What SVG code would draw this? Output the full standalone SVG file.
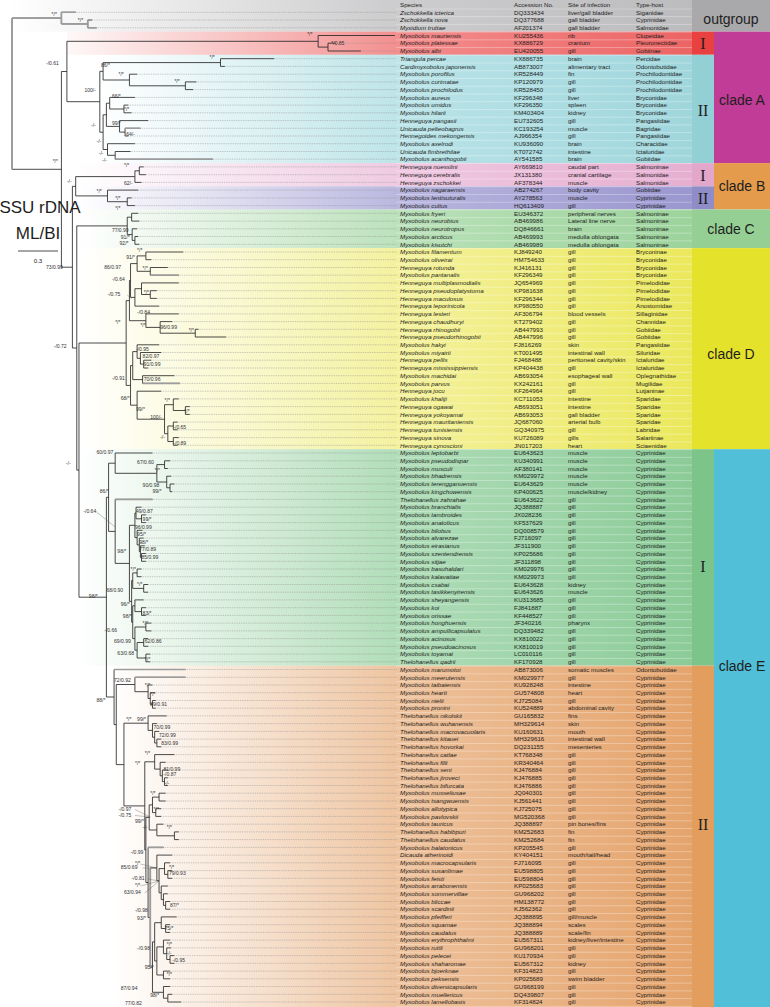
<svg xmlns="http://www.w3.org/2000/svg" width="770" height="1007" viewBox="0 0 770 1007">
<defs>
<style>
.br{fill:none;stroke:#262626;stroke-width:0.8}
.gb{fill:none;stroke:#9c9c9c;stroke-width:1.6}
.dt{fill:none;stroke:#8c8c8c;stroke-width:0.5;stroke-dasharray:0.8 0.8}
.ld{fill:none;stroke:#555;stroke-width:0.35}
.lb{font-family:"Liberation Sans",Arial,sans-serif;font-size:4.6px;fill:#333}
.r{font-family:"Liberation Sans",Arial,sans-serif;font-size:6.2px;fill:#1e1e1e}
.sp{font-style:italic}
.cl{font-family:"Liberation Sans",Arial,sans-serif;font-size:14px;fill:#1e1e1e;text-anchor:middle}
.rn{font-family:"Liberation Serif","Times New Roman",serif;font-size:16px;fill:#1e1e1e;text-anchor:middle}
.ti{font-family:"Liberation Sans",Arial,sans-serif;font-size:17px;fill:#1e1e1e;text-anchor:middle}
</style>
<linearGradient id="gGr" x1="0" y1="0" x2="1" y2="0"><stop offset="0" stop-color="#c1c1c3" stop-opacity="0"/><stop offset="0.55" stop-color="#c1c1c3" stop-opacity="0.8"/><stop offset="1" stop-color="#bcbcbe"/></linearGradient>
<linearGradient id="gRe" x1="0" y1="0" x2="1" y2="0"><stop offset="0" stop-color="#ef6e6e" stop-opacity="0.05"/><stop offset="0.55" stop-color="#ef6e6e" stop-opacity="0.8"/><stop offset="1" stop-color="#ec6464"/></linearGradient>
<linearGradient id="gTe" x1="0" y1="0" x2="1" y2="0"><stop offset="0" stop-color="#a6dbe0" stop-opacity="0"/><stop offset="0.55" stop-color="#a6dbe0" stop-opacity="0.8"/><stop offset="1" stop-color="#9fd6dc"/></linearGradient>
<linearGradient id="gPi" x1="0" y1="0" x2="1" y2="0"><stop offset="0" stop-color="#eab9d8" stop-opacity="0"/><stop offset="0.55" stop-color="#eab9d8" stop-opacity="0.8"/><stop offset="1" stop-color="#e6afd1"/></linearGradient>
<linearGradient id="gLa" x1="0" y1="0" x2="1" y2="0"><stop offset="0" stop-color="#a5a1d5" stop-opacity="0"/><stop offset="0.55" stop-color="#a5a1d5" stop-opacity="0.8"/><stop offset="1" stop-color="#9a96cf"/></linearGradient>
<linearGradient id="gGn" x1="0" y1="0" x2="1" y2="0"><stop offset="0" stop-color="#a6d8a5" stop-opacity="0"/><stop offset="0.55" stop-color="#a6d8a5" stop-opacity="0.8"/><stop offset="1" stop-color="#9cd39b"/></linearGradient>
<linearGradient id="gYe" x1="0" y1="0" x2="1" y2="0"><stop offset="0" stop-color="#f0ed80" stop-opacity="0"/><stop offset="0.55" stop-color="#f0ed80" stop-opacity="0.8"/><stop offset="1" stop-color="#ebe85c"/></linearGradient>
<linearGradient id="gEg" x1="0" y1="0" x2="1" y2="0"><stop offset="0" stop-color="#98d2a3" stop-opacity="0"/><stop offset="0.55" stop-color="#98d2a3" stop-opacity="0.8"/><stop offset="1" stop-color="#8ccb98"/></linearGradient>
<linearGradient id="gOr" x1="0" y1="0" x2="1" y2="0"><stop offset="0" stop-color="#e9b283" stop-opacity="0"/><stop offset="0.55" stop-color="#e9b283" stop-opacity="0.85"/><stop offset="1" stop-color="#e5a46c"/></linearGradient>
<pattern id="rl" patternUnits="userSpaceOnUse" x="396" y="8.43" width="296" height="7.732"><rect width="296" height="0.45" fill="#ffffff" opacity="0.65"/></pattern>
</defs>
<rect width="770" height="1007" fill="#ffffff"/>
<g id="bands">
<rect x="10" y="0" width="682" height="31.6" fill="url(#gGr)"/>
<rect x="67" y="31.6" width="625" height="23.2" fill="url(#gRe)"/>
<rect x="100" y="54.8" width="592" height="108.3" fill="url(#gTe)"/>
<rect x="76" y="163.1" width="616" height="23.2" fill="url(#gPi)"/>
<rect x="76" y="186.3" width="616" height="23.2" fill="url(#gLa)"/>
<rect x="77" y="209.5" width="615" height="38.6" fill="url(#gGn)"/>
<rect x="80" y="248.1" width="612" height="201.1" fill="url(#gYe)"/>
<rect x="78" y="449.2" width="614" height="216.5" fill="url(#gEg)"/>
<rect x="113" y="665.7" width="579" height="341.3" fill="url(#gOr)"/>
<rect x="396" y="8.43" width="296" height="998.6" fill="url(#rl)"/>
</g>
<g id="outgroup"><rect x="692" y="0" width="78" height="31.6" fill="#a9a9ab"/><text class="cl" x="731" y="24" font-size="13">outgroup</text></g>
<g id="cladeA"><rect x="714" y="31.6" width="56" height="131.5" fill="#c13c96"/><text class="cl" x="742" y="105">clade A</text></g>
<g id="cladeA-I"><rect x="692" y="31.6" width="22" height="23.2" fill="#e8413f"/><text class="rn" x="703" y="48.5">I</text></g>
<g id="cladeA-II"><rect x="692" y="54.8" width="22" height="108.3" fill="#93d0d6"/><text class="rn" x="703" y="116">II</text></g>
<g id="cladeB"><rect x="714" y="163.1" width="56" height="46.4" fill="#e49b4c"/><text class="cl" x="742" y="191">clade B</text></g>
<g id="cladeB-I"><rect x="692" y="163.1" width="22" height="23.2" fill="#e3a7cb"/><text class="rn" x="703" y="180.5">I</text></g>
<g id="cladeB-II"><rect x="692" y="186.3" width="22" height="23.2" fill="#8f8cc8"/><text class="rn" x="703" y="203.5">II</text></g>
<g id="cladeC"><rect x="692" y="209.5" width="78" height="38.6" fill="#95cf94"/><text class="cl" x="731" y="233.5">clade C</text></g>
<g id="cladeD"><rect x="692" y="248.1" width="78" height="201.1" fill="#e5e22c"/><text class="cl" x="731" y="359">clade D</text></g>
<g id="cladeE"><rect x="714" y="449.2" width="56" height="557.8" fill="#50bfd7"/><text class="cl" x="742" y="671">clade E</text></g>
<g id="cladeE-I"><rect x="692" y="449.2" width="22" height="216.5" fill="#7dc48a"/><text class="rn" x="703" y="571.5">I</text></g>
<g id="cladeE-II"><rect x="692" y="665.7" width="22" height="341.3" fill="#e39e5e"/><text class="rn" x="703" y="829.5">II</text></g>
<g id="title"><text class="ti" x="40" y="213">SSU rDNA</text><text class="ti" x="38" y="239">ML/BI</text><path d="M18,251H58" stroke="#222" stroke-width="0.8"/><text class="r" x="38" y="263" text-anchor="middle">0.3</text></g>
<g id="connectors" transform="matrix(1.097,0,0,1,-40.6,0)">
<path class="br" d="M48,18.1V169.3M48,18.1H93M48,169.3H93M93,12.3V23.9M93,12.3H106M93,23.9H117M117,20V27.8M117,20H121M117,27.8H125M93,71.5V267.2M93,71.5H98M93,267.2H103
M98,41.3V101.7M98,41.3H327M98,101.7H128M327,35.5V47.1M327,35.5H397M327,47.1H336M336,43.2V51M336,43.2H343M336,51H366M128,71.3V132.2M128,71.3H131M128,132.2H131M131,62.6V80M131,62.6H238M131,80H155M238,58.7V66.4M238,58.7H287M238,66.4H242M155,74.2V85.8M155,74.2H162M155,85.8H206M206,81.9V89.6M206,81.9H216M206,89.6H213M131,114.8V149.5M131,114.8H134M131,149.5H135M134,103.2V126.4M134,103.2H137M134,126.4H146M137,97.4V109M137,97.4H160M137,109H150M150,105.1V112.8M150,105.1H154M150,112.8H157M146,120.6V132.1M146,120.6H172M146,132.1H151M151,128.3V136M151,128.3H165M151,136H154M135,143.7V155.3M135,143.7H160M135,155.3H142M142,151.5V159.2M142,151.5H156M142,159.2H231
M103,186.3V348M103,186.3H106M103,348H107M106,176.6V195.9M106,176.6H160M106,195.9H135M160,170.8V182.4M160,170.8H164M160,182.4H166M164,166.9V174.7M164,166.9H168M164,174.7H170M135,190.1V201.7M135,190.1H163M135,201.7H153M153,197.9V205.6M153,197.9H157M153,205.6H160M107,225.9V470.1M107,225.9H153M107,470.1H109
M153,217.2V234.6M153,217.2H157M153,234.6H157.5M157,213.3V221.1M157,213.3H163M157,221.1H164M157.5,228.8V240.4M157.5,228.8H162M157.5,240.4H160M160,236.5V244.3M160,236.5H163M160,244.3H164
M109,343V597.2M109,343H152M109,597.2H134
M152,300.6V385.4M152,300.6H155M152,385.4H156M155,280.5V320.7M155,280.5H156M155,320.7H170M156,263.6V297.4M156,263.6H162M156,297.4H160M162,255.9V271.3M162,255.9H170M162,271.3H174M170,252V259.7M170,252H204M170,259.7H175M174,267.5V275.2M174,267.5H190M174,275.2H200M160,288.7V306.1M160,288.7H166M160,306.1H182M166,282.9V294.5M166,282.9H200M166,294.5H174M174,290.7V298.4M174,290.7H180M174,298.4H180M170,313.9V327.4M170,313.9H200M170,327.4H183M183,321.6V333.2M183,321.6H194M183,333.2H215M215,329.3V337M215,329.3H218M215,337H243M156,365.6V405.2M156,365.6H158M156,405.2H162M158,351.6V379.6M158,351.6H162M158,379.6H167M162,344.8V358.3M162,344.8H182M162,358.3H165M165,352.5V364.1M165,352.5H184M165,364.1H168M168,360.2V368M168,360.2H175M168,368H172M167,375.7V383.4M167,375.7H196M167,383.4H201M162,391.2V419.2M162,391.2H184M162,419.2H187M187,404.7V433.7M187,404.7H195M187,433.7H190M195,398.9V410.5M195,398.9H200M195,410.5H206M206,406.6V414.4M206,406.6H210M206,414.4H210M190,426V441.5M190,426H195M190,441.5H195M195,422.1V429.8M195,422.1H199M195,429.8H199M195,437.6V445.3M195,437.6H200M195,445.3H199
M134,497.3V697M134,497.3H136M134,697H141M136,463.2V531.4M136,463.2H142M136,531.4H142M142,453V473.3M142,453H176M142,473.3H180M142,499.4V563.4M142,499.4H176M142,563.4H155M180,464.6V482M180,464.6H187M180,482H189M187,460.8V468.5M187,460.8H192M187,468.5H190M189,476.2V487.8M189,476.2H193M189,487.8H192M192,484V491.7M192,484H196M192,491.7H194M155,525.3V601.4M155,525.3H160M155,601.4H157M160,513V537.6M160,513H161M160,537.6H162M161,507.2V518.8M161,507.2H166M161,518.8H166M166,514.9V522.6M166,514.9H170M166,522.6H170M162,530.3V544.9M162,530.3H167M162,544.9H164M164,538.1V551.6M164,538.1H168M164,551.6H165M165,545.8V557.4M165,545.8H169M165,557.4H166M166,553.5V561.3M166,553.5H170M166,561.3H170M157,580.6V622.2M157,580.6H158M157,622.2H158M158,572.9V588.4M158,572.9H162M158,588.4H168M162,569V576.7M162,569H166M162,576.7H166M168,584.5V592.2M168,584.5H172M168,592.2H172M158,605.8V638.6M158,605.8H160M158,638.6H160M160,599.9V611.6M160,599.9H168M160,611.6H166M166,607.7V615.4M166,607.7H170M166,615.4H170M160,627V650.2M160,627H170M160,650.2H162M170,623.1V630.9M170,623.1H175M170,630.9H175M162,642.5V658M162,642.5H168M162,658H170M168,638.6V646.3M168,638.6H172M168,646.3H172M170,654.1V661.8M170,654.1H174M170,661.8H174
M141,669.5V724.6M141,669.5H206M141,724.6H143M143,684.5V764.6M143,684.5H160M143,764.6H150M160,677.3V691.7M160,677.3H206M160,691.7H172M172,685V698.5M172,685H176M172,698.5H174M174,692.7V704.3M174,692.7H178M174,704.3H176M176,700.5V708.2M176,700.5H179M176,708.2H179M150,723.2V805.9M150,723.2H172M150,805.9H169M172,715.9V730.4M172,715.9H189M172,730.4H176M176,723.6V737.2M176,723.6H180M176,737.2H178M178,731.4V743M178,731.4H182M178,743H180M180,739.1V746.8M180,739.1H184M180,746.8H184M169,761.8V850M169,761.8H178M169,850H170M178,754.6V769.1M178,754.6H196M178,769.1H183M183,762.3V775.8M183,762.3H188M183,775.8H185M185,770V781.6M185,770H190M185,781.6H187M187,777.8V785.5M187,777.8H190M187,785.5H190M170,817.4V882.5M170,817.4H173M170,882.5H172M173,804.9V830M173,804.9H176M173,830H180M176,797.1V812.6M176,797.1H182M176,812.6H179M182,793.2V801M182,793.2H188M182,801H188M179,808.7V816.4M179,808.7H184M179,816.4H184M180,824.2V835.8M180,824.2H186M180,835.8H196M196,831.9V839.6M196,831.9H200M196,839.6H200M172,847.4V917.5M172,847.4H186M172,917.5H174M174,867.9V967.1M174,867.9H180M174,967.1H176M180,855.1V880.7M180,855.1H194M180,880.7H182M182,868.6V892.8M182,868.6H187M182,892.8H184M187,862.8V874.4M187,862.8H192M187,874.4H190M190,870.6V878.3M190,870.6H194M190,878.3H194M184,886V899.6M184,886H190M184,899.6H186M186,893.8V905.4M186,893.8H190M186,905.4H188M188,901.5V909.2M188,901.5H192M188,909.2H192M176,941.9V992.3M176,941.9H178M176,992.3H186M178,922.7V961M178,922.7H184M178,961H180M184,916.9V928.5M184,916.9H198M184,928.5H188M188,924.7V932.4M188,924.7H192M188,932.4H192M180,946.9V975M180,946.9H186M180,975H186M186,940.1V953.7M186,940.1H192M186,953.7H189M189,947.9V959.5M189,947.9H193M189,959.5H192M192,955.6V963.3M192,955.6H196M192,963.3H196M186,971.1V978.8M186,971.1H192M186,978.8H192M186,986.5V998.2M186,986.5H192M186,998.2H190M190,994.3V1002M190,994.3H194M190,1002H202"/>
<path class="gb" d="M48,18.1V169.3M48,18.1H93M93,12.3V23.9M93,12.3H106M93,23.9H117M117,20V27.8M117,20H121M117,27.8H125M142,159.2H231M151,128.3H165M174,275.2H200M167,383.4H201M142,499.4H176M141,669.5H206M172,847.4H186M160,677.3H206M174,867.9V967.1"/>
<path class="dt" d="M106,12.3H399M121,20H399M125,27.8H399M343,43.2H399M366,51H399M287,58.7H399M242,66.4H399M162,74.2H399M216,81.9H399M213,89.6H399M160,97.4H399M154,105.1H399M157,112.8H399M172,120.6H399M165,128.3H399M154,136H399M160,143.7H399M156,151.5H399M231,159.2H399M168,166.9H399M170,174.7H399M166,182.4H399M163,190.1H399M157,197.9H399M160,205.6H399M163,213.3H399M164,221.1H399M162,228.8H399M163,236.5H399M164,244.3H399M204,252H399M175,259.7H399M190,267.5H399M200,275.2H399M200,282.9H399M180,290.7H399M180,298.4H399M182,306.1H399M200,313.9H399M194,321.6H399M218,329.3H399M243,337H399M182,344.8H399M184,352.5H399M175,360.2H399M172,368H399M196,375.7H399M201,383.4H399M184,391.2H399M200,398.9H399M210,406.6H399M210,414.4H399M199,422.1H399M199,429.8H399M200,437.6H399M199,445.3H399M176,453H399M192,460.8H399M190,468.5H399M193,476.2H399M196,484H399M194,491.7H399M176,499.4H399M166,507.2H399M170,514.9H399M170,522.6H399M167,530.3H399M168,538.1H399M169,545.8H399M170,553.5H399M170,561.3H399M166,569H399M166,576.7H399M172,584.5H399M172,592.2H399M168,599.9H399M170,607.7H399M170,615.4H399M175,623.1H399M175,630.9H399M172,638.6H399M172,646.3H399M174,654.1H399M174,661.8H399M206,669.5H399M206,677.3H399M176,685H399M178,692.7H399M179,700.5H399M179,708.2H399M189,715.9H399M180,723.6H399M182,731.4H399M184,739.1H399M184,746.8H399M196,754.6H399M188,762.3H399M190,770H399M190,777.8H399M190,785.5H399M188,793.2H399M188,801H399M184,808.7H399M184,816.4H399M186,824.2H399M200,831.9H399M200,839.6H399M186,847.4H399M194,855.1H399M192,862.8H399M194,870.6H399M194,878.3H399M190,886H399M190,893.8H399M192,901.5H399M192,909.2H399M198,916.9H399M192,924.7H399M192,932.4H399M192,940.1H399M193,947.9H399M196,955.6H399M196,963.3H399M192,971.1H399M192,978.8H399M192,986.5H399M194,994.3H399M202,1002H399"/>
<path class="ld" d="M153,295L157,298.7M125,512L142,527M160,809.5L174,817M160,815.5L174,817M165,864L180,868M167,868L180,868M172,879L182,881M165,886L182,881M169,893L182,881"/>
</g>
<g id="support" class="lb" transform="matrix(1.097,0,0,1,-40.6,0)">
<text x="84" y="15.6">*/*</text><text x="108" y="21.6">*/*</text><text x="79" y="64.6">-/0.61</text><text x="85" y="162.6">*/*</text><text x="79" y="269.3">73/0.99</text><text x="98" y="182.6">-/-</text><text x="86" y="347.6">-/0.72</text><text x="97" y="464.6">-/-</text><text x="118" y="597.6">98/*</text>
<text x="317" y="36.3">*/*</text><text x="339" y="44.6">*/0.85</text><text x="228" y="59.3">*/*</text><text x="129" y="67.3">86/*</text><text x="145" y="75.6">*/*</text><text x="196" y="82.6">*/*</text><text x="114" y="92.3">100/-</text><text x="139" y="98.3">66/*</text><text x="150" y="110.6">*/*</text><text x="139" y="124.9">99/*</text><text x="120" y="127.3">-/-</text><text x="152" y="135.6">64/-</text><text x="125" y="142.9">-/-</text><text x="127" y="154.6">-/-</text><text x="130" y="161.6">-/-</text>
<text x="150" y="167.3">*/*</text><text x="150" y="184.6">62/-</text><text x="125" y="192.6">*/*</text><text x="142" y="200.3">*/*</text>
<text x="142" y="209.6">*/*</text><text x="139" y="231.6">77/0.99</text><text x="147" y="238.6">91/*</text><text x="146" y="244.6">92/*</text>
<text x="162" y="252.3">*/*</text><text x="152" y="258.6">91/*</text><text x="132" y="269.3">86/0.97</text><text x="167" y="269.6">*/*</text><text x="139" y="280.6">-/0.64</text><text x="135" y="295.6">-/0.75</text><text x="168" y="293.6">*/*</text><text x="162" y="313.6">-/0.84</text><text x="142" y="323.6">*/*</text><text x="165" y="326.6">*/*</text><text x="183" y="328.6">96/0.99</text><text x="209" y="331.6">*/*</text><text x="161" y="350.6">-/0.95</text><text x="167" y="357.6">82/0.97</text><text x="168" y="365.6">91/0.99</text><text x="139" y="379.6">-/0.91</text><text x="168" y="380.6">70/0.96</text><text x="147" y="399.6">68/*</text><text x="187" y="401.6">*/*</text><text x="161" y="410.6">99/*</text><text x="205" y="412.6">*/*</text><text x="174" y="418.6">100/-</text><text x="195" y="428.6">-/0.65</text><text x="183" y="438.6">-/-</text><text x="195" y="444.6">-/0.89</text>
<text x="125" y="453.6">60/0.97</text><text x="162" y="463.6">67/0.60</text><text x="178" y="471.6">*/*</text><text x="167" y="486.6">90/0.98</text><text x="176" y="492.6">99/*</text><text x="128" y="492.6">86/*</text><text x="113" y="512.6">-/0.64</text><text x="161" y="512.6">49/0.87</text><text x="167" y="520.6">99/*</text><text x="160" y="528.6">96/0.99</text><text x="162" y="535.6">95/*</text><text x="164" y="543.6">98/*</text><text x="164" y="550.6">77/0.89</text><text x="166" y="558.6">85/0.99</text><text x="144" y="552.6">98/*</text><text x="156" y="570.6">*/*</text><text x="162" y="585.6">*/*</text><text x="134" y="591.6">68/0.90</text><text x="147" y="605.6">96/*</text><text x="167" y="614.6">83/*</text><text x="149" y="617.6">98/*</text><text x="167" y="624.6">*/*</text><text x="132" y="631.6">-/0.66</text><text x="141" y="642.6">69/0.99</text><text x="169" y="642.6">62/0.86</text><text x="144" y="654.6">63/0.68</text><text x="169" y="660.6">*/*</text>
<text x="141" y="681.6">72/0.92</text><text x="169" y="686.6">*/*</text><text x="174" y="695.6">*/*</text><text x="174" y="705.6">89/0.91</text><text x="125" y="701.6">88/*</text><text x="152" y="720.6">*/*</text><text x="162" y="720.6">99/*</text><text x="177" y="728.6">70/0.99</text><text x="182" y="736.6">72/0.99</text><text x="184" y="744.6">83/0.99</text><text x="169" y="755.3">*/*</text><text x="160" y="764.6">*/*</text><text x="186" y="770.6">81/0.99</text><text x="186" y="775.6">-/0.87</text><text x="187" y="784.6">-/-</text><text x="174" y="794.6">*/*</text><text x="145" y="810.6">-/0.97</text><text x="177" y="810.6">*/*</text><text x="145" y="816.6">-/0.75</text><text x="160" y="822.6">99/*</text><text x="167" y="828.6">-/-</text><text x="189" y="828.6">*/*</text><text x="156" y="853.6">-/0.99</text><text x="160" y="864.6">*/*</text><text x="147" y="868.6">85/0.69</text><text x="191" y="868.6">*/*</text><text x="191" y="874.6">79/0.93</text><text x="157" y="879.6">-/0.81</text><text x="160" y="886.6">*/*</text><text x="150" y="893.6">63/0.94</text><text x="192" y="906.6">87/*</text><text x="160" y="911.6">-/0.98</text><text x="162" y="919.6">93/*</text><text x="187" y="929.6">75/*</text><text x="189" y="945.6">*/*</text><text x="162" y="949.6">-/0.98</text><text x="189" y="954.6">-/-</text><text x="194" y="961.6">-/0.95</text><text x="169" y="968.6">95/*</text><text x="189" y="975.6">*/*</text><text x="147" y="989.6">87/0.94</text><text x="174" y="996.6">98/*</text><text x="151" y="1004.6">77/0.82</text>
</g>
<g id="header"><text class="r" y="6.8"><tspan x="400">Species</tspan><tspan x="514">Accession No.</tspan><tspan x="568">Site of infection</tspan><tspan x="636">Type-host</tspan></text></g>
<g id="taxa" class="r">
<g id="t1"><text y="14.5"><tspan x="400" class="sp">Zschokkella icterica</tspan><tspan x="514">DQ333434</tspan><tspan x="568">liver/gall bladder</tspan><tspan x="636">Siganidae</tspan></text></g>
<g id="t2"><text y="22.2"><tspan x="400" class="sp">Zschokkella nova</tspan><tspan x="514">DQ377688</tspan><tspan x="568">gall bladder</tspan><tspan x="636">Cyprinidae</tspan></text></g>
<g id="t3"><text y="30"><tspan x="400" class="sp">Myxidium truttae</tspan><tspan x="514">AF201374</tspan><tspan x="568">gall bladder</tspan><tspan x="636">Salmonidae</tspan></text></g>
<g id="t4"><text y="37.7"><tspan x="400" class="sp">Myxobolus mauriensis</tspan><tspan x="514">KU255436</tspan><tspan x="568">rib</tspan><tspan x="636">Clupeidae</tspan></text></g>
<g id="t5"><text y="45.4"><tspan x="400" class="sp">Myxobolus platessae</tspan><tspan x="514">KX886729</tspan><tspan x="568">cranium</tspan><tspan x="636">Pleuronectidae</tspan></text></g>
<g id="t6"><text y="53.2"><tspan x="400" class="sp">Myxobolus albi</tspan><tspan x="514">EU420055</tspan><tspan x="568">gill</tspan><tspan x="636">Gobiinae</tspan></text></g>
<g id="t7"><text y="60.9"><tspan x="400" class="sp">Triangula percae</tspan><tspan x="514">KX886735</tspan><tspan x="568">brain</tspan><tspan x="636">Percidae</tspan></text></g>
<g id="t8"><text y="68.6"><tspan x="400" class="sp">Cardimyxobolus japonensis</tspan><tspan x="514">AB873007</tspan><tspan x="568">alimentary tract</tspan><tspan x="636">Odontobutidae</tspan></text></g>
<g id="t9"><text y="76.4"><tspan x="400" class="sp">Myxobolus porofilus</tspan><tspan x="514">KR528449</tspan><tspan x="568">fin</tspan><tspan x="636">Prochilodontidae</tspan></text></g>
<g id="t10"><text y="84.1"><tspan x="400" class="sp">Myxobolus curimatae</tspan><tspan x="514">KP120979</tspan><tspan x="568">gill</tspan><tspan x="636">Prochilodontidae</tspan></text></g>
<g id="t11"><text y="91.8"><tspan x="400" class="sp">Myxobolus prochilodus</tspan><tspan x="514">KR528450</tspan><tspan x="568">gill</tspan><tspan x="636">Prochilodontidae</tspan></text></g>
<g id="t12"><text y="99.6"><tspan x="400" class="sp">Myxobolus aureus</tspan><tspan x="514">KF296348</tspan><tspan x="568">liver</tspan><tspan x="636">Bryconidae</tspan></text></g>
<g id="t13"><text y="107.3"><tspan x="400" class="sp">Myxobolus umidus</tspan><tspan x="514">KF296350</tspan><tspan x="568">spleen</tspan><tspan x="636">Bryconidae</tspan></text></g>
<g id="t14"><text y="115"><tspan x="400" class="sp">Myxobolus hilarii</tspan><tspan x="514">KM403404</tspan><tspan x="568">kidney</tspan><tspan x="636">Bryconidae</tspan></text></g>
<g id="t15"><text y="122.8"><tspan x="400" class="sp">Henneguya pangasii</tspan><tspan x="514">EU732605</tspan><tspan x="568">gill</tspan><tspan x="636">Pangasiidae</tspan></text></g>
<g id="t16"><text y="130.5"><tspan x="400" class="sp">Unicauda pelteobagrus</tspan><tspan x="514">KC193254</tspan><tspan x="568">muscle</tspan><tspan x="636">Bagridae</tspan></text></g>
<g id="t17"><text y="138.2"><tspan x="400" class="sp">Hennegoides mekongensis</tspan><tspan x="514">AJ966354</tspan><tspan x="568">gill</tspan><tspan x="636">Pangasiidae</tspan></text></g>
<g id="t18"><text y="145.9"><tspan x="400" class="sp">Myxobolus axelrodi</tspan><tspan x="514">KU936090</tspan><tspan x="568">brain</tspan><tspan x="636">Characidae</tspan></text></g>
<g id="t19"><text y="153.7"><tspan x="400" class="sp">Unicauda fimbrethilae</tspan><tspan x="514">KT072742</tspan><tspan x="568">intestine</tspan><tspan x="636">Ictaluridae</tspan></text></g>
<g id="t20"><text y="161.4"><tspan x="400" class="sp">Myxobolus acanthogobii</tspan><tspan x="514">AY541585</tspan><tspan x="568">brain</tspan><tspan x="636">Gobiidae</tspan></text></g>
<g id="t21"><text y="169.1"><tspan x="400" class="sp">Henneguya nuesslini</tspan><tspan x="514">AY669810</tspan><tspan x="568">caudal part</tspan><tspan x="636">Salmoninae</tspan></text></g>
<g id="t22"><text y="176.9"><tspan x="400" class="sp">Henneguya cerebralis</tspan><tspan x="514">JX131380</tspan><tspan x="568">cranial cartilage</tspan><tspan x="636">Salmonidae</tspan></text></g>
<g id="t23"><text y="184.6"><tspan x="400" class="sp">Henneguya zschokkei</tspan><tspan x="514">AF378344</tspan><tspan x="568">muscle</tspan><tspan x="636">Salmonidae</tspan></text></g>
<g id="t24"><text y="192.3"><tspan x="400" class="sp">Myxobolus nagaraensis</tspan><tspan x="514">AB274267</tspan><tspan x="568">body cavity</tspan><tspan x="636">Gobiidae</tspan></text></g>
<g id="t25"><text y="200.1"><tspan x="400" class="sp">Myxobolus lentisuturalis</tspan><tspan x="514">AY278563</tspan><tspan x="568">muscle</tspan><tspan x="636">Cyprinidae</tspan></text></g>
<g id="t26"><text y="207.8"><tspan x="400" class="sp">Myxobolus cultus</tspan><tspan x="514">HQ613409</tspan><tspan x="568">gill</tspan><tspan x="636">Cyprinidae</tspan></text></g>
<g id="t27"><text y="215.5"><tspan x="400" class="sp">Myxobolus fryeri</tspan><tspan x="514">EU346372</tspan><tspan x="568">peripheral nerves</tspan><tspan x="636">Salmoninae</tspan></text></g>
<g id="t28"><text y="223.3"><tspan x="400" class="sp">Myxobolus neurobius</tspan><tspan x="514">AB469986</tspan><tspan x="568">Lateral line nerve</tspan><tspan x="636">Salmoninae</tspan></text></g>
<g id="t29"><text y="231"><tspan x="400" class="sp">Myxobolus neurotropus</tspan><tspan x="514">DQ846661</tspan><tspan x="568">brain</tspan><tspan x="636">Salmoninae</tspan></text></g>
<g id="t30"><text y="238.7"><tspan x="400" class="sp">Myxobolus arcticus</tspan><tspan x="514">AB469993</tspan><tspan x="568">medulla oblongata</tspan><tspan x="636">Salmoninae</tspan></text></g>
<g id="t31"><text y="246.5"><tspan x="400" class="sp">Myxobolus kisutchi</tspan><tspan x="514">AB469989</tspan><tspan x="568">medulla oblongata</tspan><tspan x="636">Salmoninae</tspan></text></g>
<g id="t32"><text y="254.2"><tspan x="400" class="sp">Myxobolus filamentum</tspan><tspan x="514">KJ849240</tspan><tspan x="568">gill</tspan><tspan x="636">Bryconinae</tspan></text></g>
<g id="t33"><text y="261.9"><tspan x="400" class="sp">Myxobolus oliveirai</tspan><tspan x="514">HM754633</tspan><tspan x="568">gill</tspan><tspan x="636">Bryconidae</tspan></text></g>
<g id="t34"><text y="269.7"><tspan x="400" class="sp">Henneguya rotunda</tspan><tspan x="514">KJ416131</tspan><tspan x="568">gill</tspan><tspan x="636">Bryconidae</tspan></text></g>
<g id="t35"><text y="277.4"><tspan x="400" class="sp">Myxobolus pantanalis</tspan><tspan x="514">KF296349</tspan><tspan x="568">gill</tspan><tspan x="636">Bryconidae</tspan></text></g>
<g id="t36"><text y="285.1"><tspan x="400" class="sp">Henneguya multiplasmodialis</tspan><tspan x="514">JQ654969</tspan><tspan x="568">gill</tspan><tspan x="636">Pimelodidae</tspan></text></g>
<g id="t37"><text y="292.9"><tspan x="400" class="sp">Henneguya pseudoplatystoma</tspan><tspan x="514">KP981638</tspan><tspan x="568">gill</tspan><tspan x="636">Pimelodidae</tspan></text></g>
<g id="t38"><text y="300.6"><tspan x="400" class="sp">Henneguya maculosus</tspan><tspan x="514">KF296344</tspan><tspan x="568">gill</tspan><tspan x="636">Pimelodidae</tspan></text></g>
<g id="t39"><text y="308.3"><tspan x="400" class="sp">Henneguya leporinicola</tspan><tspan x="514">KP980550</tspan><tspan x="568">gill</tspan><tspan x="636">Anostomidae</tspan></text></g>
<g id="t40"><text y="316.1"><tspan x="400" class="sp">Henneguya lesteri</tspan><tspan x="514">AF306794</tspan><tspan x="568">blood vessels</tspan><tspan x="636">Sillaginidae</tspan></text></g>
<g id="t41"><text y="323.8"><tspan x="400" class="sp">Henneguya chaudhuryi</tspan><tspan x="514">KT279402</tspan><tspan x="568">gill</tspan><tspan x="636">Channidae</tspan></text></g>
<g id="t42"><text y="331.5"><tspan x="400" class="sp">Henneguya rhinogobii</tspan><tspan x="514">AB447993</tspan><tspan x="568">gill</tspan><tspan x="636">Gobiidae</tspan></text></g>
<g id="t43"><text y="339.2"><tspan x="400" class="sp">Henneguya pseudorhinogobii</tspan><tspan x="514">AB447996</tspan><tspan x="568">gill</tspan><tspan x="636">Gobiidae</tspan></text></g>
<g id="t44"><text y="347"><tspan x="400" class="sp">Myxobolus hakyi</tspan><tspan x="514">FJ816269</tspan><tspan x="568">skin</tspan><tspan x="636">Pangasiidae</tspan></text></g>
<g id="t45"><text y="354.7"><tspan x="400" class="sp">Myxobolus miyairii</tspan><tspan x="514">KT001495</tspan><tspan x="568">intestinal wall</tspan><tspan x="636">Siluridae</tspan></text></g>
<g id="t46"><text y="362.4"><tspan x="400" class="sp">Henneguya pellis</tspan><tspan x="514">FJ468488</tspan><tspan x="568">peritoneal cavity/skin</tspan><tspan x="636">Ictaluridae</tspan></text></g>
<g id="t47"><text y="370.2"><tspan x="400" class="sp">Henneguya mississippiensis</tspan><tspan x="514">KP404438</tspan><tspan x="568">gill</tspan><tspan x="636">Ictaluridae</tspan></text></g>
<g id="t48"><text y="377.9"><tspan x="400" class="sp">Myxobolus machidai</tspan><tspan x="514">AB693054</tspan><tspan x="568">esophageal wall</tspan><tspan x="636">Oplegnathidae</tspan></text></g>
<g id="t49"><text y="385.6"><tspan x="400" class="sp">Myxobolus parvus</tspan><tspan x="514">KX242161</tspan><tspan x="568">gill</tspan><tspan x="636">Mugilidae</tspan></text></g>
<g id="t50"><text y="393.4"><tspan x="400" class="sp">Henneguya jocu</tspan><tspan x="514">KF264964</tspan><tspan x="568">gill</tspan><tspan x="636">Lutjaninae</tspan></text></g>
<g id="t51"><text y="401.1"><tspan x="400" class="sp">Myxobolus khaliji</tspan><tspan x="514">KC711053</tspan><tspan x="568">intestine</tspan><tspan x="636">Sparidae</tspan></text></g>
<g id="t52"><text y="408.8"><tspan x="400" class="sp">Henneguya ogawai</tspan><tspan x="514">AB693051</tspan><tspan x="568">intestine</tspan><tspan x="636">Sparidae</tspan></text></g>
<g id="t53"><text y="416.6"><tspan x="400" class="sp">Henneguya yokoyamai</tspan><tspan x="514">AB693053</tspan><tspan x="568">gall bladder</tspan><tspan x="636">Sparidae</tspan></text></g>
<g id="t54"><text y="424.3"><tspan x="400" class="sp">Henneguya mauritaniensis</tspan><tspan x="514">JQ687060</tspan><tspan x="568">arterial bulb</tspan><tspan x="636">Sparidae</tspan></text></g>
<g id="t55"><text y="432"><tspan x="400" class="sp">Henneguya tunisiensis</tspan><tspan x="514">GQ340975</tspan><tspan x="568">gill</tspan><tspan x="636">Labridae</tspan></text></g>
<g id="t56"><text y="439.8"><tspan x="400" class="sp">Henneguya sinova</tspan><tspan x="514">KU726089</tspan><tspan x="568">gills</tspan><tspan x="636">Salariinae</tspan></text></g>
<g id="t57"><text y="447.5"><tspan x="400" class="sp">Henneguya cynoscioni</tspan><tspan x="514">JN017203</tspan><tspan x="568">heart</tspan><tspan x="636">Sciaenidae</tspan></text></g>
<g id="t58"><text y="455.2"><tspan x="400" class="sp">Myxobolus leptobarbi</tspan><tspan x="514">EU643623</tspan><tspan x="568">muscle</tspan><tspan x="636">Cyprinidae</tspan></text></g>
<g id="t59"><text y="463"><tspan x="400" class="sp">Myxobolus pseudodispar</tspan><tspan x="514">KU340991</tspan><tspan x="568">muscle</tspan><tspan x="636">Cyprinidae</tspan></text></g>
<g id="t60"><text y="470.7"><tspan x="400" class="sp">Myxobolus musculi</tspan><tspan x="514">AF380141</tspan><tspan x="568">muscle</tspan><tspan x="636">Cyprinidae</tspan></text></g>
<g id="t61"><text y="478.4"><tspan x="400" class="sp">Myxobolus bhadrensis</tspan><tspan x="514">KM029972</tspan><tspan x="568">muscle</tspan><tspan x="636">Cyprinidae</tspan></text></g>
<g id="t62"><text y="486.2"><tspan x="400" class="sp">Myxobolus terengganuensis</tspan><tspan x="514">EU643629</tspan><tspan x="568">muscle</tspan><tspan x="636">Cyprinidae</tspan></text></g>
<g id="t63"><text y="493.9"><tspan x="400" class="sp">Myxobolus kingchowensis</tspan><tspan x="514">KP400625</tspan><tspan x="568">muscle/kidney</tspan><tspan x="636">Cyprinidae</tspan></text></g>
<g id="t64"><text y="501.6"><tspan x="400" class="sp">Thelohanellus zahrahae</tspan><tspan x="514">EU643622</tspan><tspan x="568">gill</tspan><tspan x="636">Cyprinidae</tspan></text></g>
<g id="t65"><text y="509.4"><tspan x="400" class="sp">Myxobolus branchialis</tspan><tspan x="514">JQ388887</tspan><tspan x="568">gill</tspan><tspan x="636">Cyprinidae</tspan></text></g>
<g id="t66"><text y="517.1"><tspan x="400" class="sp">Myxobolus tambroides</tspan><tspan x="514">JX028236</tspan><tspan x="568">gill</tspan><tspan x="636">Cyprinidae</tspan></text></g>
<g id="t67"><text y="524.8"><tspan x="400" class="sp">Myxobolus anatolicus</tspan><tspan x="514">KF537629</tspan><tspan x="568">gill</tspan><tspan x="636">Cyprinidae</tspan></text></g>
<g id="t68"><text y="532.5"><tspan x="400" class="sp">Myxobolus bilobus</tspan><tspan x="514">DQ008579</tspan><tspan x="568">gill</tspan><tspan x="636">Cyprinidae</tspan></text></g>
<g id="t69"><text y="540.3"><tspan x="400" class="sp">Myxobolus alvarezae</tspan><tspan x="514">FJ716097</tspan><tspan x="568">gill</tspan><tspan x="636">Cyprinidae</tspan></text></g>
<g id="t70"><text y="548"><tspan x="400" class="sp">Myxobolus eirasianus</tspan><tspan x="514">JF311900</tspan><tspan x="568">gill</tspan><tspan x="636">Cyprinidae</tspan></text></g>
<g id="t71"><text y="555.7"><tspan x="400" class="sp">Myxobolus szentendrensis</tspan><tspan x="514">KP025686</tspan><tspan x="568">gill</tspan><tspan x="636">Cyprinidae</tspan></text></g>
<g id="t72"><text y="563.5"><tspan x="400" class="sp">Myxobolus sitjae</tspan><tspan x="514">JF311898</tspan><tspan x="568">gill</tspan><tspan x="636">Cyprinidae</tspan></text></g>
<g id="t73"><text y="571.2"><tspan x="400" class="sp">Myxobolus basuhaldari</tspan><tspan x="514">KM029976</tspan><tspan x="568">gill</tspan><tspan x="636">Cyprinidae</tspan></text></g>
<g id="t74"><text y="578.9"><tspan x="400" class="sp">Myxobolus kalavatiae</tspan><tspan x="514">KM029973</tspan><tspan x="568">gill</tspan><tspan x="636">Cyprinidae</tspan></text></g>
<g id="t75"><text y="586.7"><tspan x="400" class="sp">Myxobolus csabai</tspan><tspan x="514">EU643628</tspan><tspan x="568">kidney</tspan><tspan x="636">Cyprinidae</tspan></text></g>
<g id="t76"><text y="594.4"><tspan x="400" class="sp">Myxobolus tasikkenyirensis</tspan><tspan x="514">EU643626</tspan><tspan x="568">muscle</tspan><tspan x="636">Cyprinidae</tspan></text></g>
<g id="t77"><text y="602.1"><tspan x="400" class="sp">Myxobolus sheyangensis</tspan><tspan x="514">KU313685</tspan><tspan x="568">gill</tspan><tspan x="636">Cyprinidae</tspan></text></g>
<g id="t78"><text y="609.9"><tspan x="400" class="sp">Myxobolus koi</tspan><tspan x="514">FJ841887</tspan><tspan x="568">gill</tspan><tspan x="636">Cyprinidae</tspan></text></g>
<g id="t79"><text y="617.6"><tspan x="400" class="sp">Myxobolus orissae</tspan><tspan x="514">KF448527</tspan><tspan x="568">gill</tspan><tspan x="636">Cyprinidae</tspan></text></g>
<g id="t80"><text y="625.3"><tspan x="400" class="sp">Myxobolus honghuensis</tspan><tspan x="514">JF340216</tspan><tspan x="568">pharynx</tspan><tspan x="636">Cyprinidae</tspan></text></g>
<g id="t81"><text y="633.1"><tspan x="400" class="sp">Myxobolus ampullicapsulatus</tspan><tspan x="514">DQ339482</tspan><tspan x="568">gill</tspan><tspan x="636">Cyprinidae</tspan></text></g>
<g id="t82"><text y="640.8"><tspan x="400" class="sp">Myxobolus acinosus</tspan><tspan x="514">KX810022</tspan><tspan x="568">gill</tspan><tspan x="636">Cyprinidae</tspan></text></g>
<g id="t83"><text y="648.5"><tspan x="400" class="sp">Myxobolus pseudoacinosus</tspan><tspan x="514">KX810019</tspan><tspan x="568">gill</tspan><tspan x="636">Cyprinidae</tspan></text></g>
<g id="t84"><text y="656.3"><tspan x="400" class="sp">Myxobolus toyamai</tspan><tspan x="514">LC010116</tspan><tspan x="568">gill</tspan><tspan x="636">Cyprinidae</tspan></text></g>
<g id="t85"><text y="664"><tspan x="400" class="sp">Thelohanellus qadrii</tspan><tspan x="514">KF170928</tspan><tspan x="568">gill</tspan><tspan x="636">Cyprinidae</tspan></text></g>
<g id="t86"><text y="671.7"><tspan x="400" class="sp">Myxobolus marumotoi</tspan><tspan x="514">AB873006</tspan><tspan x="568">somatic muscles</tspan><tspan x="636">Odontobutidae</tspan></text></g>
<g id="t87"><text y="679.5"><tspan x="400" class="sp">Myxobolus meerutensis</tspan><tspan x="514">KM029977</tspan><tspan x="568">gill</tspan><tspan x="636">Cyprinidae</tspan></text></g>
<g id="t88"><text y="687.2"><tspan x="400" class="sp">Myxobolus taibaiensis</tspan><tspan x="514">KU928248</tspan><tspan x="568">intestine</tspan><tspan x="636">Cyprinidae</tspan></text></g>
<g id="t89"><text y="694.9"><tspan x="400" class="sp">Myxobolus hearti</tspan><tspan x="514">GU574808</tspan><tspan x="568">heart</tspan><tspan x="636">Cyprinidae</tspan></text></g>
<g id="t90"><text y="702.7"><tspan x="400" class="sp">Myxobolus nielii</tspan><tspan x="514">KJ725084</tspan><tspan x="568">gill</tspan><tspan x="636">Cyprinidae</tspan></text></g>
<g id="t91"><text y="710.4"><tspan x="400" class="sp">Myxobolus pronini</tspan><tspan x="514">KU524889</tspan><tspan x="568">abdominal cavity</tspan><tspan x="636">Cyprinidae</tspan></text></g>
<g id="t92"><text y="718.1"><tspan x="400" class="sp">Thelohanellus nikolskii</tspan><tspan x="514">GU165832</tspan><tspan x="568">fins</tspan><tspan x="636">Cyprinidae</tspan></text></g>
<g id="t93"><text y="725.8"><tspan x="400" class="sp">Thelohanellus wuhanensis</tspan><tspan x="514">MH329614</tspan><tspan x="568">skin</tspan><tspan x="636">Cyprinidae</tspan></text></g>
<g id="t94"><text y="733.6"><tspan x="400" class="sp">Thelohanellus macrovacuolaris</tspan><tspan x="514">KU160631</tspan><tspan x="568">mouth</tspan><tspan x="636">Cyprinidae</tspan></text></g>
<g id="t95"><text y="741.3"><tspan x="400" class="sp">Thelohanellus kitauei</tspan><tspan x="514">MH329616</tspan><tspan x="568">intestinal wall</tspan><tspan x="636">Cyprinidae</tspan></text></g>
<g id="t96"><text y="749"><tspan x="400" class="sp">Thelohanellus hovorkai</tspan><tspan x="514">DQ231155</tspan><tspan x="568">mesenteries</tspan><tspan x="636">Cyprinidae</tspan></text></g>
<g id="t97"><text y="756.8"><tspan x="400" class="sp">Thelohanellus catlae</tspan><tspan x="514">KT768348</tspan><tspan x="568">gill</tspan><tspan x="636">Cyprinidae</tspan></text></g>
<g id="t98"><text y="764.5"><tspan x="400" class="sp">Thelohanellus filli</tspan><tspan x="514">KR340464</tspan><tspan x="568">gill</tspan><tspan x="636">Cyprinidae</tspan></text></g>
<g id="t99"><text y="772.2"><tspan x="400" class="sp">Thelohanellus seni</tspan><tspan x="514">KJ476884</tspan><tspan x="568">gill</tspan><tspan x="636">Cyprinidae</tspan></text></g>
<g id="t100"><text y="780"><tspan x="400" class="sp">Thelohanellus jiroveci</tspan><tspan x="514">KJ476885</tspan><tspan x="568">gill</tspan><tspan x="636">Cyprinidae</tspan></text></g>
<g id="t101"><text y="787.7"><tspan x="400" class="sp">Thelohanellus bifurcata</tspan><tspan x="514">KJ476886</tspan><tspan x="568">gill</tspan><tspan x="636">Cyprinidae</tspan></text></g>
<g id="t102"><text y="795.4"><tspan x="400" class="sp">Myxobolus musseliusae</tspan><tspan x="514">JQ040301</tspan><tspan x="568">gill</tspan><tspan x="636">Cyprinidae</tspan></text></g>
<g id="t103"><text y="803.2"><tspan x="400" class="sp">Myxobolus tsangwuensis</tspan><tspan x="514">KJ561441</tspan><tspan x="568">gill</tspan><tspan x="636">Cyprinidae</tspan></text></g>
<g id="t104"><text y="810.9"><tspan x="400" class="sp">Myxobolus allotypica</tspan><tspan x="514">KJ725075</tspan><tspan x="568">gill</tspan><tspan x="636">Cyprinidae</tspan></text></g>
<g id="t105"><text y="818.6"><tspan x="400" class="sp">Myxobolus pavlovskii</tspan><tspan x="514">MG520368</tspan><tspan x="568">gill</tspan><tspan x="636">Cyprinidae</tspan></text></g>
<g id="t106"><text y="826.4"><tspan x="400" class="sp">Myxobolus tauricus</tspan><tspan x="514">JQ388897</tspan><tspan x="568">pin bones/fins</tspan><tspan x="636">Cyprinidae</tspan></text></g>
<g id="t107"><text y="834.1"><tspan x="400" class="sp">Thelohanellus habibpuri</tspan><tspan x="514">KM252683</tspan><tspan x="568">fin</tspan><tspan x="636">Cyprinidae</tspan></text></g>
<g id="t108"><text y="841.8"><tspan x="400" class="sp">Thelohanellus caudatus</tspan><tspan x="514">KM252684</tspan><tspan x="568">fin</tspan><tspan x="636">Cyprinidae</tspan></text></g>
<g id="t109"><text y="849.6"><tspan x="400" class="sp">Myxobolus balatonicus</tspan><tspan x="514">KP205545</tspan><tspan x="568">gill</tspan><tspan x="636">Cyprinidae</tspan></text></g>
<g id="t110"><text y="857.3"><tspan x="400" class="sp">Dicauda atherinoidi</tspan><tspan x="514">KY404151</tspan><tspan x="568">mouth/tail/head</tspan><tspan x="636">Cyprinidae</tspan></text></g>
<g id="t111"><text y="865"><tspan x="400" class="sp">Myxobolus macrocapsularis</tspan><tspan x="514">FJ716095</tspan><tspan x="568">gill</tspan><tspan x="636">Cyprinidae</tspan></text></g>
<g id="t112"><text y="872.8"><tspan x="400" class="sp">Myxobolus susanlimae</tspan><tspan x="514">EU598805</tspan><tspan x="568">gill</tspan><tspan x="636">Cyprinidae</tspan></text></g>
<g id="t113"><text y="880.5"><tspan x="400" class="sp">Myxobolus feisti</tspan><tspan x="514">EU598804</tspan><tspan x="568">gill</tspan><tspan x="636">Cyprinidae</tspan></text></g>
<g id="t114"><text y="888.2"><tspan x="400" class="sp">Myxobolus arrabonensis</tspan><tspan x="514">KP025683</tspan><tspan x="568">gill</tspan><tspan x="636">Cyprinidae</tspan></text></g>
<g id="t115"><text y="896"><tspan x="400" class="sp">Myxobolus sommervillae</tspan><tspan x="514">GU968202</tspan><tspan x="568">gill</tspan><tspan x="636">Cyprinidae</tspan></text></g>
<g id="t116"><text y="903.7"><tspan x="400" class="sp">Myxobolus bliccae</tspan><tspan x="514">HM138772</tspan><tspan x="568">gill</tspan><tspan x="636">Cyprinidae</tspan></text></g>
<g id="t117"><text y="911.4"><tspan x="400" class="sp">Myxobolus scardinii</tspan><tspan x="514">KJ562362</tspan><tspan x="568">gill</tspan><tspan x="636">Cyprinidae</tspan></text></g>
<g id="t118"><text y="919.1"><tspan x="400" class="sp">Myxobolus pfeifferi</tspan><tspan x="514">JQ388895</tspan><tspan x="568">gill/muscle</tspan><tspan x="636">Cyprinidae</tspan></text></g>
<g id="t119"><text y="926.9"><tspan x="400" class="sp">Myxobolus squamae</tspan><tspan x="514">JQ388894</tspan><tspan x="568">scales</tspan><tspan x="636">Cyprinidae</tspan></text></g>
<g id="t120"><text y="934.6"><tspan x="400" class="sp">Myxobolus caudatus</tspan><tspan x="514">JQ388889</tspan><tspan x="568">scale/fin</tspan><tspan x="636">Cyprinidae</tspan></text></g>
<g id="t121"><text y="942.3"><tspan x="400" class="sp">Myxobolus erythrophthalmi</tspan><tspan x="514">EU567311</tspan><tspan x="568">kidney/liver/intestine</tspan><tspan x="636">Cyprinidae</tspan></text></g>
<g id="t122"><text y="950.1"><tspan x="400" class="sp">Myxobolus rutili</tspan><tspan x="514">GU968201</tspan><tspan x="568">gill</tspan><tspan x="636">Cyprinidae</tspan></text></g>
<g id="t123"><text y="957.8"><tspan x="400" class="sp">Myxobolus pelecei</tspan><tspan x="514">KU170934</tspan><tspan x="568">gill</tspan><tspan x="636">Cyprinidae</tspan></text></g>
<g id="t124"><text y="965.5"><tspan x="400" class="sp">Myxobolus shaharomae</tspan><tspan x="514">EU567312</tspan><tspan x="568">kidney</tspan><tspan x="636">Cyprinidae</tspan></text></g>
<g id="t125"><text y="973.3"><tspan x="400" class="sp">Myxobolus bjoerknae</tspan><tspan x="514">KF314823</tspan><tspan x="568">gill</tspan><tspan x="636">Cyprinidae</tspan></text></g>
<g id="t126"><text y="981"><tspan x="400" class="sp">Myxobolus peksensis</tspan><tspan x="514">KP025689</tspan><tspan x="568">swim bladder</tspan><tspan x="636">Cyprinidae</tspan></text></g>
<g id="t127"><text y="988.7"><tspan x="400" class="sp">Myxobolus diversicapsularis</tspan><tspan x="514">GU968199</tspan><tspan x="568">gill</tspan><tspan x="636">Cyprinidae</tspan></text></g>
<g id="t128"><text y="996.5"><tspan x="400" class="sp">Myxobolus muellericus</tspan><tspan x="514">DQ439807</tspan><tspan x="568">gill</tspan><tspan x="636">Cyprinidae</tspan></text></g>
<g id="t129"><text y="1004.2"><tspan x="400" class="sp">Myxobolus lamellobasis</tspan><tspan x="514">KF314824</tspan><tspan x="568">gill</tspan><tspan x="636">Cyprinidae</tspan></text></g>
</g>
</svg>
